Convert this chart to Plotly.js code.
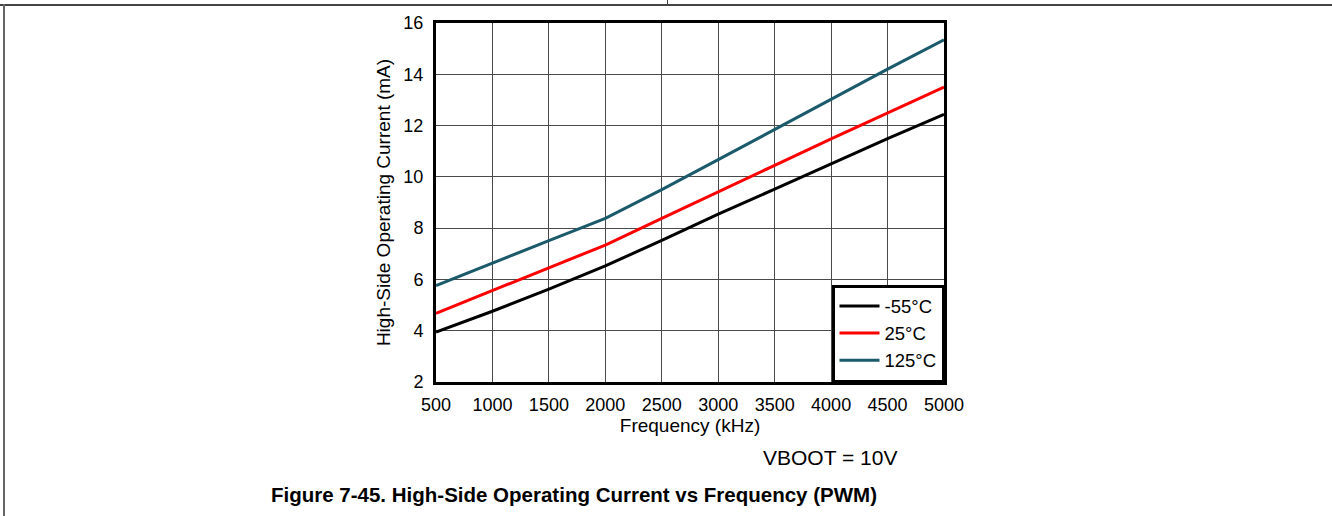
<!DOCTYPE html>
<html>
<head>
<meta charset="utf-8">
<script src="https://cdn.plot.ly/plotly-3.0.1.min.js"></script>
<style>
  html, body { margin: 0; padding: 0; background: #fff; }
  #wrap { position: relative; width: 1332px; height: 516px; overflow: hidden; }
  #chart { position: absolute; left: 0; top: 0; width: 1332px; height: 516px; }
  .fr { position: absolute; background: #444; z-index: 5; }
</style>
</head>
<body>
<div id="wrap">
  <div id="chart"></div>
  <div class="fr" style="left:0;top:4px;width:1332px;height:2px;"></div>
  <div class="fr" style="left:3px;top:4px;width:2px;height:512px;background:#666;"></div>
  <div class="fr" style="left:667px;top:0;width:1px;height:5px;"></div>
</div>
<script>
const frequency = [500, 1000, 1500, 2000, 2500, 3000, 3500, 4000, 4500, 5000];
const current_m55 = [3.95, 4.76, 5.62, 6.53, 7.52, 8.55, 9.52, 10.51, 11.49, 12.44];
const current_25  = [4.68, 5.56, 6.43, 7.34, 8.38, 9.43, 10.45, 11.48, 12.50, 13.50];
const current_125 = [5.76, 6.65, 7.51, 8.38, 9.50, 10.67, 11.85, 13.02, 14.20, 15.34];
const seriesNames = ['-55°C', '25°C', '125°C'];
const xTicks = [500, 1000, 1500, 2000, 2500, 3000, 3500, 4000, 4500, 5000];
const yTicks = [2, 4, 6, 8, 10, 12, 14, 16];

const FONT = 'Liberation Sans, Arial, sans-serif';
const traces = [
  {x: frequency, y: current_m55, name: seriesNames[0], mode: 'lines', line: {color: '#000000', width: 3}},
  {x: frequency, y: current_25,  name: seriesNames[1], mode: 'lines', line: {color: '#ff0000', width: 3}},
  {x: frequency, y: current_125, name: seriesNames[2], mode: 'lines', line: {color: '#1a5a6b', width: 3}}
];

const layout = {
  width: 1332, height: 516,
  margin: {l: 436, r: 388, t: 23, b: 134},
  paper_bgcolor: '#fff', plot_bgcolor: '#fff',
  font: {family: FONT, size: 18, color: '#000'},
  showlegend: true,
  legend: {
    x: 1, xanchor: 'right', y: 0, yanchor: 'bottom',
    bgcolor: '#fff', bordercolor: '#000', borderwidth: 2.5,
    font: {family: FONT, size: 18.5, color: '#000'},
    tracegroupgap: 0, itemwidth: 40
  },
  xaxis: {
    range: [500, 5000], tickvals: xTicks, ticktext: xTicks.map(String),
    showgrid: true, gridcolor: '#4a4a4a', gridwidth: 1,
    showline: true, mirror: true, linecolor: '#000', linewidth: 3,
    zeroline: false, ticks: '', ticklabelstandoff: 4,
    tickfont: {family: FONT, size: 18, color: '#000'},
    title: {text: 'Frequency (kHz)', font: {family: FONT, size: 19, color: '#000'}, standoff: 0}
  },
  yaxis: {
    range: [2, 16], tickvals: yTicks, ticktext: yTicks.map(String),
    showgrid: true, gridcolor: '#4a4a4a', gridwidth: 1,
    showline: true, mirror: true, linecolor: '#000', linewidth: 3,
    zeroline: false, ticks: '', ticklabelstandoff: 6,
    tickfont: {family: FONT, size: 18, color: '#000'},
    title: {text: 'High-Side Operating Current (mA)', font: {family: FONT, size: 19, color: '#000'}, standoff: 8}
  },
  annotations: [
    {text: 'VBOOT = 10V', xref: 'paper', yref: 'paper', x: 0.776, y: -0.209,
     xanchor: 'center', yanchor: 'middle', showarrow: false,
     font: {family: FONT, size: 21, color: '#000'}},
    {text: '<b>Figure 7-45. High-Side Operating Current vs Frequency (PWM)</b>', xref: 'paper', yref: 'paper',
     x: 0.2717, y: -0.312, xanchor: 'center', yanchor: 'middle', showarrow: false,
     font: {family: FONT, size: 20.5, color: '#000'}}
  ]
};

Plotly.newPlot('chart', traces, layout, {staticPlot: true, displayModeBar: false});
</script>
</body>
</html>
